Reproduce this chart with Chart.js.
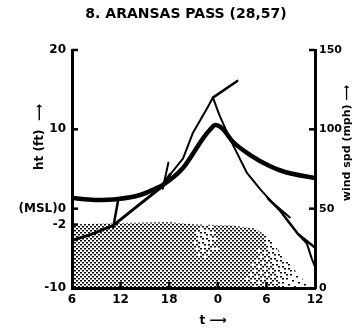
<!DOCTYPE html>
<html>
<head>
<meta charset="utf-8">
<script src="https://cdn.jsdelivr.net/npm/chart.js@4.4.1/dist/chart.umd.min.js"></script>
<style>
  html, body { margin: 0; padding: 0; background: #fff; }
  #wrap { position: relative; width: 353px; height: 329px; }
</style>
</head>
<body>
<div id="wrap"><canvas id="chart"></canvas></div>
<script>
// ---------- labels ----------
const chartTitle = '8. ARANSAS PASS (28,57)';
const heightTitle = 'ht (ft)  \u27F6';
const windTitle = 'wind spd (mph) \u27F6';
const timeTitle = 't \u27F6';

// ---------- axes ----------
const hourTicks = [-18, -12, -6, 0, 6, 12];
const hourTickLabels = ['6', '12', '18', '0', '6', '12'];
const heightTicks = [-10, -2, 0, 10, 20];
const heightTickLabels = ['-10', '-2', '(MSL)0', '10', '20'];
const windTicks = [0, 50, 100, 150];

// ---------- wind speed (mph) ----------
const windHours = [-18, -15.2, -12.3, -9.6, -7.8, -6.8, -4.3, -1.8, -1.0, -0.3, 0.5, 1.9, 4.0, 6.4, 8.3, 12];
const windMph   = [56.7, 55.5, 56.1, 58.6, 62.4, 64.9, 75.6, 94.5, 99.6, 102.7, 100.8, 92.0, 83.8, 76.9, 73.1, 69.3];

// ---------- surge height (ft) ----------
const surgeHours = [-18, -15.8, -12.9, -10.2, -7.1, -5.9, -4.3, -3.1, -1.3, -0.6, 0.2, 1.5, 3.6, 5.2, 6.7, 8.9];
const surgeFt    = [-4.0, -3.3, -2.1, 0.1, 2.6, 4.3, 6.3, 9.5, 12.7, 14.0, 11.8, 8.8, 4.5, 2.5, 0.8, -1.1];

// late falling limb and its fork near the end of the record
const tailHours = [6.2, 7.7, 9.9, 12];
const tailFt    = [1.3, -0.25, -3.2, -4.9];
const forkHours = [9.9, 11.0, 11.6, 12];
const forkFt    = [-3.2, -4.4, -6.3, -7.3];

// short connecting strokes
const strokeAHours = [-12.3, -12.9];
const strokeAFt    = [1.1, -2.3];
const strokeBHours = [-6.8, -6.1];
const strokeBFt    = [2.5, 5.8];
const peakMarkHours = [-0.6, 2.4];
const peakMarkFt    = [14.0, 16.1];

// ---------- stippled band (upper edge, ft) ----------
const bandHours = [-18, -12.1, -5.9, -2.8, 1.5, 4.6, 6.1, 8.5, 10.1, 11.6, 12];
const bandFt    = [-2.0, -1.8, -1.7, -2.0, -2.1, -2.5, -3.5, -6.5, -8.5, -10, -10];

const pts = (xs, ys) => xs.map((x, i) => ({ x, y: ys[i] }));

// halftone texture for the band: ordered dots that thin out toward the right
const stippleCanvas = (() => {
  const c = document.createElement('canvas');
  c.width = 353; c.height = 329;
  const g = c.getContext('2d');
  g.fillStyle = '#000';
  const density = (x, y) => {
    let d;
    if (x < 245) d = 1;
    else if (x > 305) d = 0.2;
    else d = 1 - 0.8 * (x - 245) / 60;
    // lighter patch just left of the landfall hour
    const ex = (x - 205) / 14, ey = (y - 240) / 22;
    const e = ex * ex + ey * ey;
    if (e < 1) d *= 0.45 + 0.55 * e;
    return d;
  };
  // interleaved gradient threshold: evenly spread dots without banding
  const threshold = (x, y) => {
    const f = 0.06711056 * x + 0.00583715 * y;
    const v = 52.9829189 * (f - Math.floor(f));
    return v - Math.floor(v);
  };
  for (let r = 0; r * 2 < c.height; r++) {
    const y = r * 2;
    for (let k = 0; ; k++) {
      const x = k * 4 + (r % 2) * 2;
      if (x > c.width) break;
      if (threshold(x, y) < density(x, y)) g.fillRect(x, y, 2, 1.5);
    }
  }
  return c;
})();
let stipplePattern = null;

const font12 = { family: 'DejaVu Sans', size: 12, weight: 'bold' };
const font11 = { family: 'DejaVu Sans', size: 11, weight: 'bold' };

// inward tick marks and axis titles
const decorations = {
  id: 'decorations',
  afterDraw(chart) {
    const { ctx, chartArea: ca } = chart;
    const xs = chart.scales.x, yl = chart.scales.y, yr = chart.scales.y2;
    const seg = (x1, y1, x2, y2) => { ctx.beginPath(); ctx.moveTo(x1, y1); ctx.lineTo(x2, y2); ctx.stroke(); };
    ctx.save();
    ctx.strokeStyle = '#000';
    ctx.lineWidth = 2.5;
    heightTicks.filter(v => v > -10).forEach(v => {
      const py = yl.getPixelForValue(v);
      seg(ca.left, py, ca.left + 6, py);
    });
    windTicks.filter(v => v > 0).forEach(v => {
      const py = yr.getPixelForValue(v);
      seg(ca.right - 6, py, ca.right, py);
    });
    hourTicks.filter(v => v > -18 && v < 12).forEach(v => {
      const px = xs.getPixelForValue(v);
      seg(px, ca.bottom, px, ca.bottom - 6);
    });

    ctx.fillStyle = '#000';
    ctx.textAlign = 'center';
    ctx.textBaseline = 'middle';
    ctx.font = 'bold 14px "DejaVu Sans"';
    ctx.fillText(chartTitle, 186, 14);

    const vtext = (s, x, y) => {
      ctx.save(); ctx.translate(x, y); ctx.rotate(-Math.PI / 2); ctx.fillText(s, 0, 0); ctx.restore();
    };
    ctx.font = 'bold 12px "DejaVu Sans"';
    vtext(heightTitle, 40, 137);
    ctx.font = 'bold 11px "DejaVu Sans"';
    vtext(windTitle, 347, 143);
    ctx.font = 'bold 12px "DejaVu Sans"';
    ctx.fillText(timeTitle, 213, 321);
    ctx.restore();
  }
};

const lineBase = { pointRadius: 0, borderColor: '#000', fill: false, tension: 0, borderCapStyle: 'round', borderJoinStyle: 'round' };

new Chart(document.getElementById('chart'), {
  type: 'line',
  data: {
    datasets: [
      {
        ...lineBase,
        label: 'band',
        data: pts(bandHours, bandFt),
        yAxisID: 'y',
        borderWidth: 0,
        fill: 'start',
        backgroundColor: (c) => {
          if (!stipplePattern) stipplePattern = c.chart.ctx.createPattern(stippleCanvas, 'repeat');
          return stipplePattern;
        },
        order: 10
      },
      {
        ...lineBase,
        label: 'wind speed',
        data: pts(windHours, windMph),
        yAxisID: 'y2',
        borderWidth: 4.5,
        cubicInterpolationMode: 'monotone',
        order: 1
      },
      {
        ...lineBase,
        label: 'surge',
        data: pts(surgeHours, surgeFt),
        yAxisID: 'y',
        borderWidth: 2,
        segment: { borderWidth: (s) => (s.p0.parsed.x < -7 ? 3 : 2) },
        order: 2
      },
      { ...lineBase, label: 'tail', data: pts(tailHours, tailFt), yAxisID: 'y', borderWidth: 2.5, order: 2 },
      { ...lineBase, label: 'fork', data: pts(forkHours, forkFt), yAxisID: 'y', borderWidth: 2, order: 2 },
      { ...lineBase, label: 'stroke a', data: pts(strokeAHours, strokeAFt), yAxisID: 'y', borderWidth: 2.5, order: 2 },
      { ...lineBase, label: 'stroke b', data: pts(strokeBHours, strokeBFt), yAxisID: 'y', borderWidth: 2, order: 2 },
      { ...lineBase, label: 'peak mark', data: pts(peakMarkHours, peakMarkFt), yAxisID: 'y', borderWidth: 2.5, order: 2 }
    ]
  },
  options: {
    responsive: true,
    maintainAspectRatio: false,
    animation: false,
    layout: { padding: { top: 50, left: 0, right: 0, bottom: 0 } },
    plugins: { legend: { display: false }, tooltip: { enabled: false }, title: { display: false } },
    scales: {
      x: {
        type: 'linear', position: 'bottom', min: -18, max: 12,
        afterFit: (s) => { s.height = 41; },
        afterBuildTicks: (s) => { s.ticks = hourTicks.map(v => ({ value: v })); },
        grid: { display: false, drawTicks: false },
        border: { display: true, width: 3, color: '#000' },
        ticks: {
          color: '#000', font: font12, padding: 5, maxRotation: 0, autoSkip: false,
          callback: (v) => hourTickLabels[hourTicks.indexOf(v)]
        }
      },
      y: {
        type: 'linear', position: 'left', min: -10, max: 20,
        afterFit: (s) => { s.width = 72; },
        afterBuildTicks: (s) => { s.ticks = heightTicks.map(v => ({ value: v })); },
        grid: { display: false, drawTicks: false },
        border: { display: true, width: 3, color: '#000' },
        ticks: {
          color: '#000', font: font12, padding: 6, autoSkip: false,
          callback: (v) => heightTickLabels[heightTicks.indexOf(v)]
        }
      },
      y2: {
        type: 'linear', position: 'right', min: 0, max: 150,
        afterFit: (s) => { s.width = 38; },
        afterBuildTicks: (s) => { s.ticks = windTicks.map(v => ({ value: v })); },
        grid: { display: false, drawTicks: false },
        border: { display: true, width: 3, color: '#000' },
        ticks: { color: '#000', font: font11, padding: 4, autoSkip: false }
      }
    }
  },
  plugins: [decorations]
});
</script>
</body>
</html>
